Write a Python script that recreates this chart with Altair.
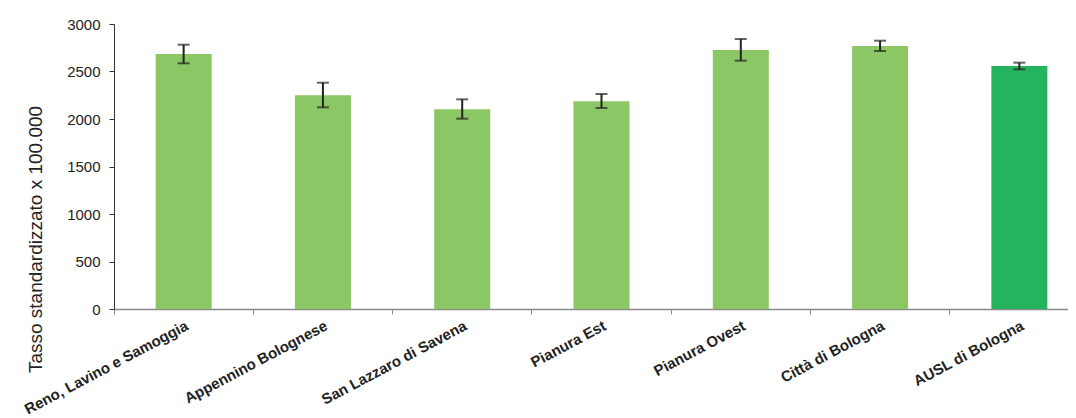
import altair as alt
import pandas as pd

categories = ["Reno, Lavino e Samoggia", "Appennino Bolognese", "San Lazzaro di Savena",
              "Pianura Est", "Pianura Ovest", "Città di Bologna", "AUSL di Bologna"]
rates = [2684, 2249, 2102, 2186, 2726, 2768, 2558]
lower = [2586, 2123, 2003, 2116, 2614, 2716, 2523]
upper = [2782, 2382, 2207, 2263, 2842, 2824, 2593]
level = ["Distretto", "Distretto", "Distretto", "Distretto", "Distretto", "Distretto", "AUSL"]

df = pd.DataFrame(dict(cat=categories, rate=rates, lo=lower, hi=upper, level=level))

FONT = "Liberation Sans"
x_scale = alt.Scale(domain=categories, range=[0, 975], paddingInner=0, paddingOuter=0)
y_scale = alt.Scale(domain=[0, 3000], nice=False)

base = alt.Chart(df)

bars = base.mark_bar(size=56).encode(
    x=alt.X("cat:N", scale=x_scale, sort=categories,
            axis=alt.Axis(orient="bottom", bandPosition=0, labels=False, ticks=True,
                          tickSize=5, domainColor="#8a8a8a", tickColor="#8a8a8a",
                          domainWidth=1.5, title=None)),
    y=alt.Y("rate:Q", scale=y_scale,
            axis=alt.Axis(orient="left", values=[0, 500, 1000, 1500, 2000, 2500, 3000],
                          format="d", tickSize=5, grid=False, domainColor="#333333",
                          tickColor="#333333",
                          labelFont=FONT, labelFontSize=15, labelColor="#222222",
                          labelPadding=9,
                          title="Tasso standardizzato x 100.000", titleFont=FONT,
                          titleFontSize=19, titleFontWeight="normal", titleColor="#222222",
                          titleX=-73, titleY=215, titleBaseline="alphabetic")),
    color=alt.Color("level:N", scale=alt.Scale(domain=["Distretto", "AUSL"],
                                               range=["#8CC765", "#25B45E"]), legend=None),
)

rules = base.mark_rule(color="#222222", strokeWidth=2).encode(
    x=alt.X("cat:N", sort=categories,
            axis=alt.Axis(orient="bottom", labelAngle=-28, ticks=False, domain=False,
                          labelFont=FONT, labelFontSize=15, labelFontWeight="bold",
                          labelColor="#222222", labelPadding=9, title=None,
                          labelAlign="right", labelBaseline="top", labelLimit=400)),
    y=alt.Y("lo:Q", axis=None),
    y2="hi:Q",
)

caps = base.transform_fold(["lo", "hi"], as_=["k", "v"]).mark_tick(
    size=12, thickness=2, color="#222222").encode(
    x=alt.X("cat:N", sort=categories, axis=None),
    y=alt.Y("v:Q", axis=None),
)

chart = alt.layer(bars, rules, caps).resolve_axis(
    x="independent", y="independent"
).properties(
    width=954, height=285,
    autosize=alt.AutoSizeParams(type="none"),
    padding={"left": 106, "top": 16, "right": 0, "bottom": 109},
    background="white",
).configure_view(stroke=None)

chart.save("out.html", embed_options={"renderer": "svg", "actions": False})
